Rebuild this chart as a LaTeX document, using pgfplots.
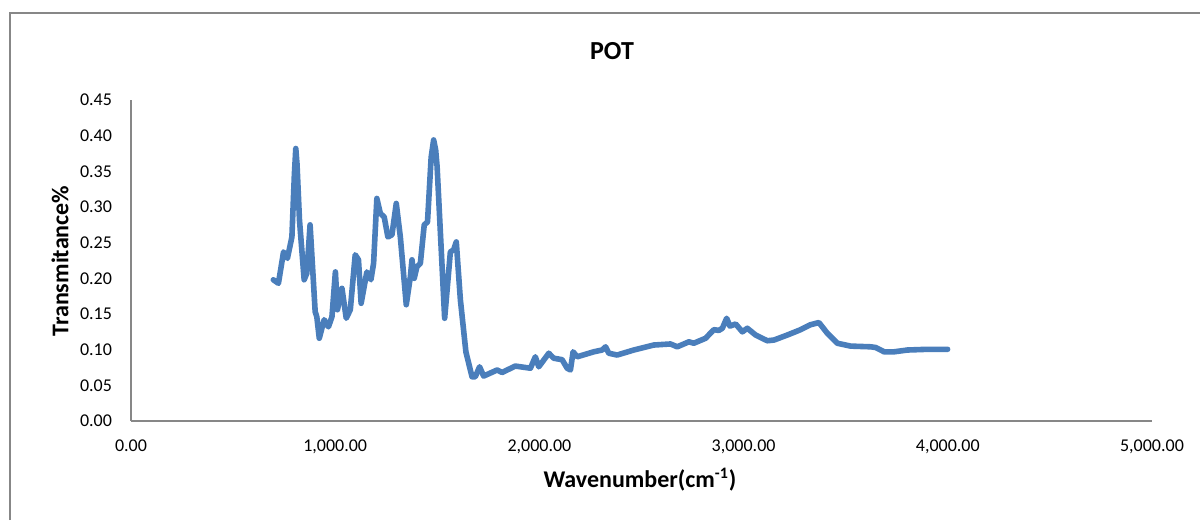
\documentclass[border=0pt]{standalone}
\usepackage{fontspec}
\setmainfont{Carlito}
\usepackage{pgfplots}
\pgfplotsset{compat=1.18}
\definecolor{lineblue}{HTML}{4A7EBB}
\definecolor{framegray}{HTML}{878787}
\begin{document}
\begin{tikzpicture}[x=0.5pt,y=0.5pt]
\useasboundingbox (0,0) rectangle (1200,520);
\draw[framegray, line width=1pt] (10,0) -- (10,507) -- (1200,507);
\begin{axis}[
  at={(65.5pt,49.5pt)}, anchor=south west,
  scale only axis, width=510.5pt, height=160.5pt,
  xmin=0, xmax=5000, ymin=0, ymax=0.45,
  axis lines=left,
  axis line style={framegray, line width=0.8pt, -},
  major tick length=0pt,
  xtick={0,1000,2000,3000,4000,5000},
  ytick={0,0.05,0.1,0.15,0.2,0.25,0.3,0.35,0.4,0.45},
  tick label style={font=\fontsize{9}{11}\selectfont, text=black},
  xticklabel style={yshift=-6pt},
  yticklabel style={xshift=-6pt},
  x tick label style={/pgf/number format/.cd, fixed, fixed zerofill, precision=2, 1000 sep={,}, assume math mode=true},
  y tick label style={/pgf/number format/.cd, fixed, fixed zerofill, precision=2, assume math mode=true},
  scaled ticks=false,
  clip=false,
]
\addplot[lineblue, line width=2.8pt, line join=round, line cap=round] coordinates {
(697,0.198) (722,0.193) (747,0.237) (766,0.228) (788,0.258) (800,0.345) (807,0.382) (813,0.360) (825,0.282)
(848,0.198) (861,0.207) (877,0.275) (902,0.153) (910,0.146) (922,0.116) (946,0.142)
(967,0.132) (984,0.146) (1001,0.209) (1011,0.156) (1033,0.186) (1054,0.144) (1074,0.156)
(1098,0.233) (1114,0.226) (1127,0.165) (1155,0.209) (1175,0.198) (1188,0.221) (1204,0.312)
(1221,0.291) (1240,0.286) (1258,0.258) (1278,0.261) (1299,0.305) (1319,0.258) (1348,0.163)
(1368,0.202) (1376,0.226) (1387,0.200) (1400,0.216) (1417,0.221) (1436,0.275) (1452,0.279)
(1470,0.370) (1482,0.394) (1492,0.380) (1499,0.357) (1536,0.144) (1564,0.237) (1580,0.240) (1593,0.251) (1613,0.170)
(1640,0.097) (1670,0.062) (1686,0.062) (1707,0.076) (1727,0.063) (1793,0.0715) (1817,0.068)
(1882,0.077) (1956,0.074) (1980,0.090) (1997,0.076) (2046,0.095) (2070,0.088) (2111,0.086)
(2136,0.074) (2152,0.0715) (2165,0.097) (2185,0.090) (2266,0.097) (2307,0.0995) (2324,0.104)
(2340,0.095) (2381,0.0925) (2462,0.0995) (2560,0.1065) (2642,0.108) (2675,0.104) (2732,0.111)
(2756,0.109) (2814,0.116) (2854,0.128) (2879,0.127) (2896,0.130) (2917,0.144) (2933,0.133)
(2961,0.136) (2994,0.125) (3018,0.130) (3059,0.1205) (3116,0.1125) (3149,0.1135) (3214,0.1205)
(3279,0.128) (3328,0.135) (3369,0.138) (3410,0.123) (3459,0.109) (3524,0.105) (3623,0.104)
(3647,0.103) (3688,0.097) (3737,0.097) (3802,0.0995) (3900,0.1005) (3999,0.1005)
};
\end{axis}
\node[font=\bfseries\fontsize{13}{15}\selectfont, anchor=base] at (612,460) {POT};
\node[font=\bfseries\fontsize{12}{14}\selectfont, anchor=base] at (640,33) {Wavenumber(cm\textsuperscript{-1})};
\node[font=\bfseries\fontsize{12}{14}\selectfont, rotate=90, anchor=center] at (60,259) {Transmitance\%};
\end{tikzpicture}
\end{document}
